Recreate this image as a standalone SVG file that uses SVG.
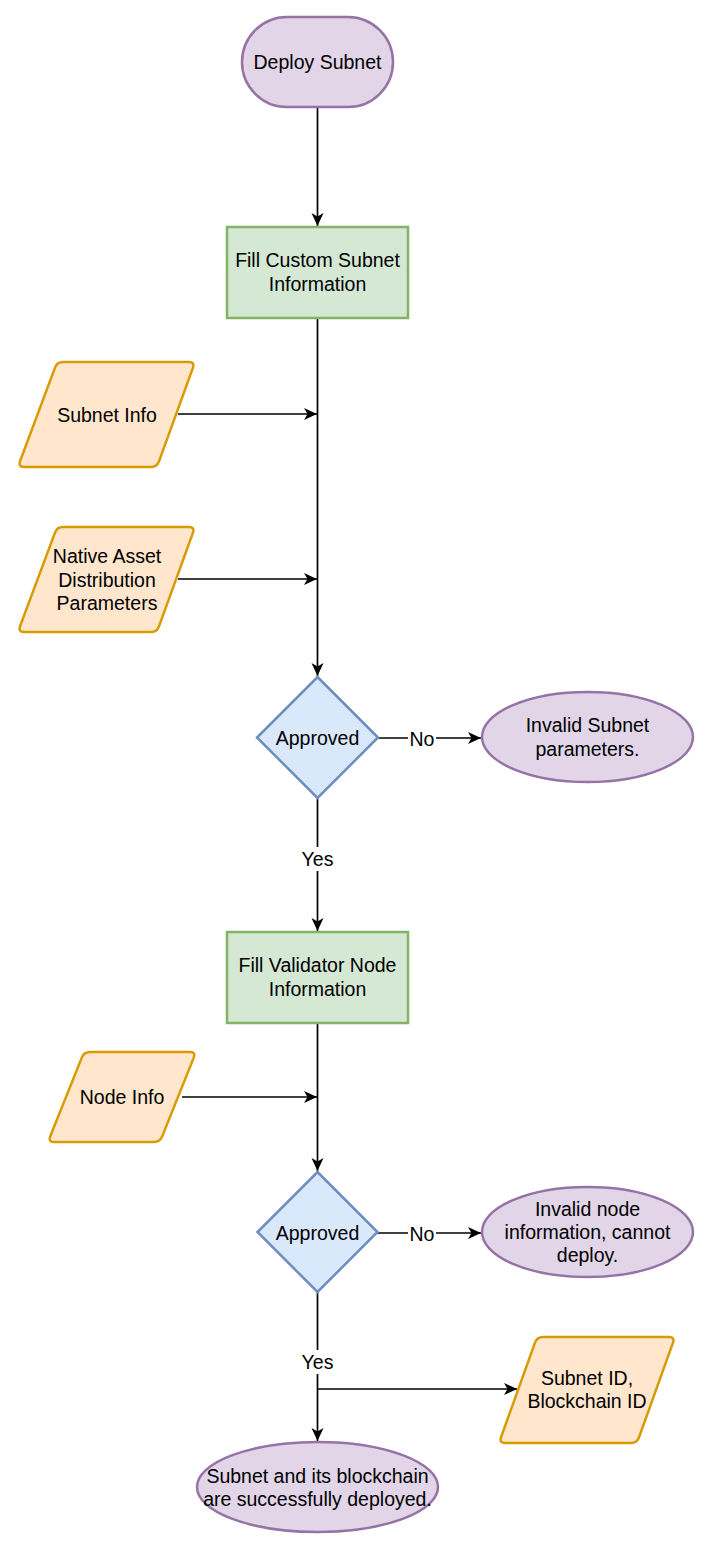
<svg xmlns="http://www.w3.org/2000/svg" width="710" height="1550" viewBox="0 0 710 1550">
  <style>
    text { font-family: "Liberation Sans", Arial, Helvetica, sans-serif; font-size: 19.5px; fill: #000; text-anchor: middle; dominant-baseline: central; }
    .term { fill: #e1d5e7; stroke: #9673a6; stroke-width: 2.5; }
    .proc { fill: #d5e8d4; stroke: #82b366; stroke-width: 2.5; }
    .io { fill: #ffe6cc; stroke: #d79b00; stroke-width: 2.5; stroke-linejoin: round; }
    .dec { fill: #dae8fc; stroke: #6c8ebf; stroke-width: 2.5; }
    .edge { fill: none; stroke: #000; stroke-width: 1.7; }
    .lblbg { fill: #fff; }
  </style>
  <defs>
    <marker id="arrow" markerUnits="userSpaceOnUse" markerWidth="14" markerHeight="13" refX="13" refY="6" orient="auto">
      <path d="M0,0 L13,6 L0,12 L3.5,6 Z" fill="#000"/>
    </marker>
  </defs>
  <rect width="710" height="1550" fill="#fff"/>

  <g id="connectors">
    <line class="edge" x1="317.5" y1="107" x2="317.5" y2="226" marker-end="url(#arrow)"/>
    <line class="edge" x1="317.5" y1="318" x2="317.5" y2="676" marker-end="url(#arrow)"/>
    <line class="edge" x1="178" y1="414" x2="317" y2="414" marker-end="url(#arrow)"/>
    <line class="edge" x1="178" y1="579" x2="317" y2="579" marker-end="url(#arrow)"/>
    <line class="edge" x1="378" y1="738" x2="481" y2="738" marker-end="url(#arrow)"/>
    <line class="edge" x1="317.5" y1="798" x2="317.5" y2="931" marker-end="url(#arrow)"/>
    <line class="edge" x1="317.5" y1="1023" x2="317.5" y2="1171" marker-end="url(#arrow)"/>
    <line class="edge" x1="182" y1="1097" x2="317" y2="1097" marker-end="url(#arrow)"/>
    <line class="edge" x1="377" y1="1233" x2="481" y2="1233" marker-end="url(#arrow)"/>
    <line class="edge" x1="317.5" y1="1292" x2="317.5" y2="1441" marker-end="url(#arrow)"/>
    <line class="edge" x1="317.5" y1="1389" x2="517" y2="1389" marker-end="url(#arrow)"/>
    <rect class="lblbg" x="408" y="727" width="28" height="22"/>
    <text x="422" y="739">No</text>
    <rect class="lblbg" x="299" y="847" width="37" height="24"/>
    <text x="317.5" y="859">Yes</text>
    <rect class="lblbg" x="408" y="1222" width="28" height="22"/>
    <text x="422" y="1234">No</text>
    <rect class="lblbg" x="299" y="1350" width="37" height="24"/>
    <text x="317.5" y="1362">Yes</text>
  </g>

  <g id="deploy-subnet">
    <rect class="term" x="242" y="17" width="151" height="90" rx="45" ry="45"/>
    <text x="317.5" y="62">Deploy Subnet</text>
  </g>

  <g id="fill-custom-subnet">
    <rect class="proc" x="227" y="227" width="181" height="91"/>
    <text x="317.5" y="260">Fill Custom Subnet</text>
    <text x="317.5" y="284">Information</text>
  </g>

  <g id="subnet-info">
    <path class="io" d="M63,362 L189,362 Q195,362 193,367.6 L159,461.4 Q157,467 151,467 L24,467 Q18,467 20,461.4 L55,367.6 Q57,362 63,362 Z"/>
    <text x="107" y="415">Subnet Info</text>
  </g>

  <g id="native-asset">
    <path class="io" d="M63,527 L189,527 Q195,527 193,532.6 L159,626.4 Q157,632 151,632 L24,632 Q18,632 20,626.4 L55,532.6 Q57,527 63,527 Z"/>
    <text x="107" y="556">Native Asset</text>
    <text x="107" y="580">Distribution</text>
    <text x="107" y="603">Parameters</text>
  </g>

  <g id="approved-1">
    <path class="dec" d="M317.5,677 L378,737.5 L317.5,798 L257,737.5 Z"/>
    <text x="317.5" y="738">Approved</text>
  </g>

  <g id="invalid-subnet">
    <ellipse class="term" cx="587.5" cy="737" rx="105.5" ry="45"/>
    <text x="587.5" y="725">Invalid Subnet</text>
    <text x="587.5" y="749">parameters.</text>
  </g>

  <g id="fill-validator">
    <rect class="proc" x="227" y="932" width="181" height="91"/>
    <text x="317.5" y="965">Fill Validator Node</text>
    <text x="317.5" y="989">Information</text>
  </g>

  <g id="node-info">
    <path class="io" d="M90,1052 L190,1052 Q196,1052 193.8,1057.6 L162.2,1136.4 Q160,1142 154,1142 L54,1142 Q48,1142 50.2,1136.4 L81.8,1057.6 Q84,1052 90,1052 Z"/>
    <text x="122" y="1097">Node Info</text>
  </g>

  <g id="approved-2">
    <path class="dec" d="M317.5,1172 L377.5,1232 L317.5,1292 L257.5,1232 Z"/>
    <text x="317.5" y="1233">Approved</text>
  </g>

  <g id="invalid-node">
    <ellipse class="term" cx="587.5" cy="1232" rx="105.5" ry="45"/>
    <text x="587.5" y="1209">Invalid node</text>
    <text x="587.5" y="1232">information, cannot</text>
    <text x="587.5" y="1255">deploy.</text>
  </g>

  <g id="subnet-id">
    <path class="io" d="M543,1337 L669,1337 Q675,1337 673,1342.6 L639,1437.4 Q637,1443 631,1443 L505,1443 Q499,1443 501,1437.4 L535,1342.6 Q537,1337 543,1337 Z"/>
    <text x="587" y="1378">Subnet ID,</text>
    <text x="587" y="1401">Blockchain ID</text>
  </g>

  <g id="deployed">
    <ellipse class="term" cx="317.5" cy="1487" rx="120.5" ry="45"/>
    <text x="317.5" y="1476">Subnet and its blockchain</text>
    <text x="317.5" y="1499">are successfully deployed.</text>
  </g>
</svg>
